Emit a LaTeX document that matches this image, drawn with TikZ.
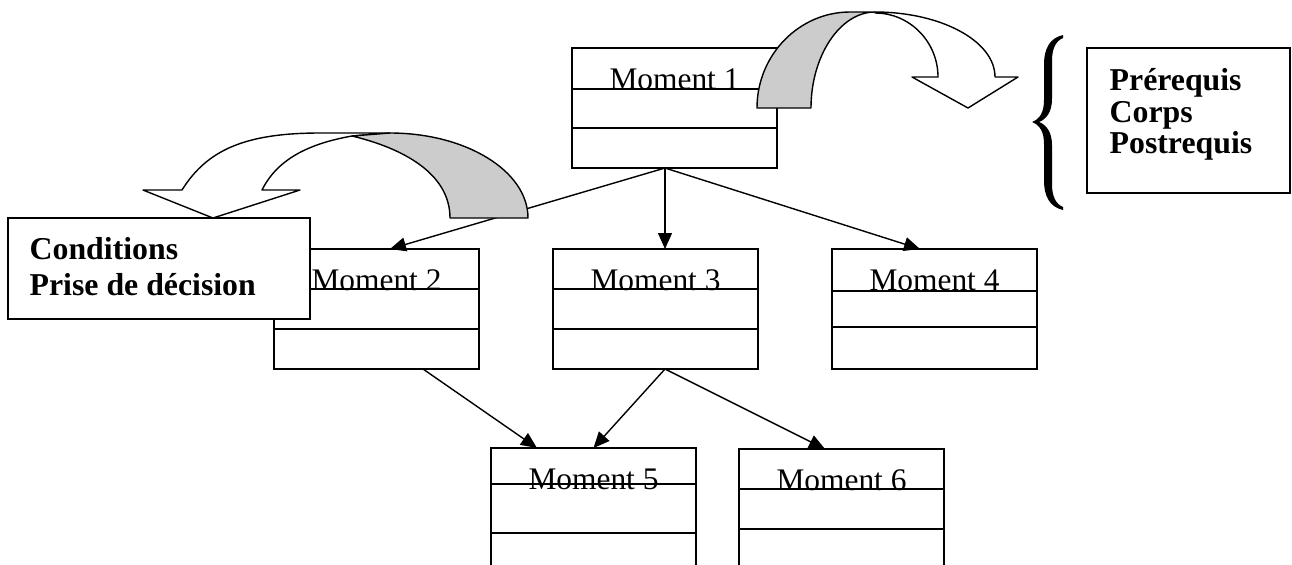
\documentclass[tikz,border=0pt]{standalone}
\usepackage{fontspec}
\setmainfont{Liberation Serif}
\usetikzlibrary{arrows.meta}
\definecolor{bandgrey}{gray}{0.8}

\begin{document}
\begin{tikzpicture}[x=0.5pt,y=-0.5pt,line width=0.7pt,
		momentbox/.style={rectangle,draw=black,minimum width=102.5pt,minimum height=60pt,inner sep=0pt,outer sep=0pt,anchor=north west},
		momtext/.style={font=\fontsize{15.7}{18}\selectfont,inner sep=0pt,anchor=base},
		infobox/.style={rectangle,draw=black,fill=white,inner sep=0pt,outer sep=0pt,anchor=north west},
		infotext/.style={font=\fontsize{15.9}{18}\selectfont\bfseries,inner sep=0pt,anchor=base west},
		link/.style={-{Triangle[length=8pt,width=7pt]}},
		bandfront/.style={draw=black,fill=white,line join=round},
		bandback/.style={draw=black,fill=bandgrey,line join=round}]
		\useasboundingbox (0,0) rectangle (1292,564);
		\clip (0,0) rectangle (1292,564);
		% the six moments
		\foreach \nm/\x/\y/\la/\lb/\txt in {m1/572/48/41/80/Moment 1, m2/274/249/40/80/Moment 2, m3/553/249/40/80/Moment 3, m4/832/249/42/78/Moment 4, m5/491/448/36/85/Moment 5, m6/739/449/40/80/Moment 6}
		{
			\node[momentbox] (\nm) at (\x,\y) {};
			\draw (\x,\y+\la) -- (\x+205,\y+\la);
			\draw (\x,\y+\lb) -- (\x+205,\y+\lb);
			\node[momtext] (\nm-t) at (\x+102.5,\y+41) {\txt};
		}
		\draw[link] ([xshift=-4.75pt]m1.south) -- ([xshift=6.75pt]m2.north);
		\draw[link] ([xshift=-4.75pt]m1.south) -- ([xshift=4.75pt]m3.north);
		\draw[link] ([xshift=-4.75pt]m1.south) -- ([xshift=-7.25pt]m4.north);
		\draw[link] ([xshift=23.25pt]m2.south) -- ([xshift=-28.25pt]m5.north);
		\draw[link] ([xshift=4.75pt]m3.south) -- (m5.north);
		\draw[link] ([xshift=4.75pt]m3.south) -- ([xshift=-8.25pt]m6.north);
		% curved arrow over moment 1
		\draw[bandfront] (875,12) .. controls +(66,0) and +(0,-36) .. (995,77) -- (1018,77) -- (968,108) -- (912,77) -- (938,77) .. controls +(0,-35) and +(35,0) .. (875,13) -- cycle;
		\draw[bandback] (757,108) .. controls +(0,-53) and +(-51,0) .. (850,12) -- (875,12) .. controls +(-35,0) and +(0,-52) .. (811,108) -- cycle;
		% curved arrow towards the conditions
		\draw[bandfront] (390,133) -- (320,133) .. controls +(-75,0) and +(25,-40) .. (182,190) -- (143,190) -- (213,218) -- (300,190) -- (262,190) .. controls +(15,-30) and +(-45,8) .. (352,136) -- cycle;
		\draw[bandback] (390,133) .. controls +(76,0) and +(0,-47) .. (528,218) -- (450,218) .. controls +(0,-45) and +(50,12) .. (352,136) -- cycle;
		% conditions box
		\node[infobox,minimum width=151pt,minimum height=50.5pt] (cond) at (8,218) {};
		\node[infotext] (cond-a) at (29,259) {Conditions};
		\node[infotext] (cond-b) at (29,295) {Prise de décision};
		% brace
		\fill (1063,35) .. controls (1050,38) and (1044,48) .. (1044,65) -- (1044,100) .. controls (1044,112) and (1040,119) .. (1032,122)
			.. controls (1040,125) and (1044,132) .. (1044,144) -- (1044,180) .. controls (1044,197) and (1050,207) .. (1063,210)
			-- (1063,207) .. controls (1056,204) and (1052,197) .. (1052,184) -- (1052,145) .. controls (1052,133) and (1047,125) .. (1039,122)
			.. controls (1047,119) and (1052,111) .. (1052,99) -- (1052,61) .. controls (1052,48) and (1056,41) .. (1063,38) -- cycle;
		% parts box
		\node[infobox,minimum width=101.5pt,minimum height=72.5pt] (parts) at (1087,48) {};
		\node[infotext] (prereq) at (1109,90) {Prérequis};
		\node[infotext] (corps) at (1109,122) {Corps};
		\node[infotext] (postreq) at (1109,153) {Postrequis};
	\end{tikzpicture}
\end{document}
